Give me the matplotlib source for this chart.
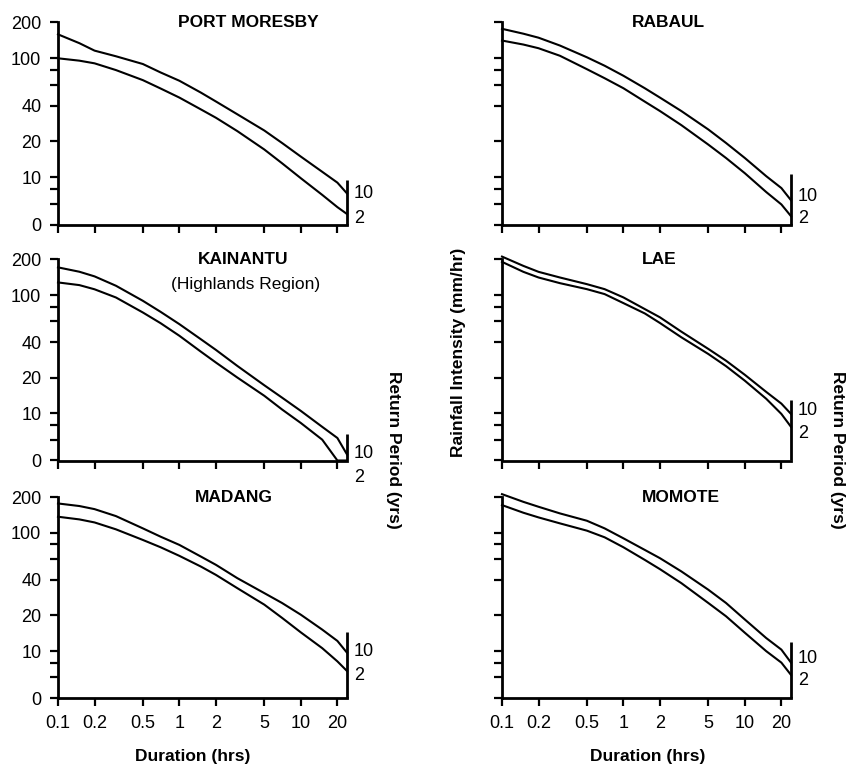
import matplotlib
matplotlib.use('Agg')
import matplotlib.pyplot as plt
from matplotlib.ticker import FixedLocator, FixedFormatter, NullFormatter, NullLocator

plt.rcParams['font.family'] = ['Liberation Sans', 'DejaVu Sans']

# ---- data ----
durations = [0.1, 0.15, 0.2, 0.3, 0.5, 0.7, 1, 1.5, 2, 3, 5, 7, 10, 15, 20, 24]
stations = ["PORT MORESBY", "RABAUL", "KAINANTU", "LAE", "MADANG", "MOMOTE"]
subtitles = ["", "", "(Highlands Region)", "", "", ""]

pm_10 = [159, 134, 116, 104, 89.5, 76, 64.7, 51.5, 43.3, 33.8, 24.7, 19.4, 14.9, 11.1, 9.0, 7.3]
pm_2 = [100, 95.5, 90.7, 79.6, 65.5, 55.7, 46.7, 37.2, 31.6, 24.4, 17.1, 13.1, 9.8, 7.1, 5.6, 4.9]
rab_10 = [177, 161, 149, 128, 102, 86.6, 71.3, 56, 46.7, 36, 25.2, 19.4, 14.5, 10.2, 8.1, 6.4]
rab_2 = [141, 130.5, 121.5, 105, 81, 68, 56, 43.2, 36, 27.4, 18.8, 14.5, 10.8, 7.5, 5.9, 4.7]
kai_10 = [171.6, 157.6, 144, 120, 89.5, 72.2, 56.8, 42.4, 34.4, 25.2, 17.3, 13.6, 10.5, 7.7, 6.2, 4.5]
kai_2 = [128, 121.5, 112, 95.5, 71.3, 57.9, 45.3, 33.3, 26.9, 20.1, 14.1, 10.8, 8.3, 6.0, 4.0, 4.0]
lae_10 = [211.7, 176.6, 157.3, 140.9, 123.8, 112.3, 95.6, 76.2, 64.9, 49.1, 35.1, 27.9, 21.2, 15.2, 12.1, 9.9]
lae_2 = [191, 157.3, 140.9, 126.2, 112.3, 102, 85.6, 70, 58.1, 44, 31.8, 25.1, 18.9, 13.3, 9.9, 7.7]
mad_10 = [176.4, 167.8, 158, 138, 108.7, 92.5, 78.8, 62.9, 53.5, 41.3, 30.9, 25.5, 20.3, 15.2, 12.2, 9.7]
mad_2 = [136.3, 129.4, 122, 106.7, 86.8, 75.3, 63.7, 51.8, 44, 34, 24.7, 19.1, 14.4, 10.6, 8.2, 6.8]
mom_10 = [211.4, 182, 165.4, 145.4, 126.1, 108.7, 89.6, 71.5, 60.9, 47.1, 33, 25.5, 18.5, 12.9, 10.3, 8.0]
mom_2 = [170.9, 147.3, 134.5, 119.8, 104, 91.4, 75.3, 58.9, 49.2, 37.5, 25.5, 19.7, 14.3, 10, 8.0, 6.3]

series_10 = [pm_10, rab_10, kai_10, lae_10, mad_10, mom_10]
series_2 = [pm_2, rab_2, kai_2, lae_2, mad_2, mom_2]

# return-period scale at the right end of each panel
rp_bar_top = [9.4, 10.7, 6.7, 13.0, 14.5, 11.9]
rp_label_10 = [7.3, 6.9, 4.56, 10.6, 9.9, 8.7]
rp_label_2 = [4.46, 4.46, 2.9, 6.8, 6.2, 5.7]

y_ticks = [4, 10, 20, 40, 100, 200]
y_ticklabels = ["0", "10", "20", "40", "100", "200"]
y_minor = [6, 8, 60, 80]
x_ticks = [0.1, 0.2, 0.5, 1, 2, 5, 10, 20]
x_ticklabels = ["0.1", "0.2", "0.5", "1", "2", "5", "10", "20"]

# ---- layout ----
W, H = 848, 769
fig = plt.figure(figsize=(W / 100, H / 100), dpi=100)

col_lefts = [58, 502]
col_width = 289
row_tops = [22.5, 259.5, 497]
row_bottoms = [224.5, 460.5, 698.3]
title_x = [0.66, 0.575, 0.64, 0.543, 0.608, 0.62]

FS = 13
for i in range(6):
    r, c = divmod(i, 2)
    left = col_lefts[c] / W
    bottom = 1 - row_bottoms[r] / H
    height = (row_bottoms[r] - row_tops[r]) / H
    ax = fig.add_axes([left, bottom, col_width / W, height])
    ax.set_xscale('log')
    ax.set_yscale('log')
    ax.set_xlim(0.1, 24)
    ax.set_ylim(4, 200)
    ax.plot(durations, series_10[i], color='black', lw=1.5, clip_on=False,
            solid_joinstyle='round')
    ax.plot(durations, series_2[i], color='black', lw=1.5, clip_on=False,
            solid_joinstyle='round')
    # return-period bar
    ax.plot([24, 24], [4, rp_bar_top[i]], color='black', lw=2, clip_on=False,
            solid_capstyle='butt')
    ax.annotate("10", xy=(24, rp_label_10[i]), xytext=(5, 0), textcoords='offset points',
                ha='left', va='center', fontsize=FS, annotation_clip=False)
    ax.annotate("2", xy=(24, rp_label_2[i]), xytext=(5, 0), textcoords='offset points',
                ha='left', va='center', fontsize=FS, annotation_clip=False)

    for s in ['top', 'right']:
        ax.spines[s].set_visible(False)
    for s in ['left', 'bottom']:
        ax.spines[s].set_linewidth(2)

    ax.yaxis.set_major_locator(FixedLocator(y_ticks))
    ax.yaxis.set_minor_locator(FixedLocator(y_minor))
    ax.yaxis.set_minor_formatter(NullFormatter())
    ax.xaxis.set_major_locator(FixedLocator(x_ticks))
    ax.xaxis.set_minor_locator(NullLocator())
    ax.xaxis.set_minor_formatter(NullFormatter())
    if c == 0:
        ax.yaxis.set_major_formatter(FixedFormatter(y_ticklabels))
    else:
        ax.yaxis.set_major_formatter(NullFormatter())
    if r == 2:
        ax.xaxis.set_major_formatter(FixedFormatter(x_ticklabels))
    else:
        ax.xaxis.set_major_formatter(NullFormatter())
    ax.tick_params(axis='y', which='both', direction='out', length=6, width=1.6,
                   pad=6, labelsize=FS)
    ax.tick_params(axis='x', which='both', direction='out', length=6, width=1.6,
                   pad=6, labelsize=FS)

    ax.text(title_x[i], 1.0, stations[i], transform=ax.transAxes, ha='center',
            va='center', fontsize=12.5, fontweight='bold')
    if subtitles[i]:
        ax.text(title_x[i] + 0.01, 0.875, subtitles[i], transform=ax.transAxes,
                ha='center', va='center', fontsize=12.5)

fig.text(459 / W, 1 - 352 / H, "Rainfall Intensity (mm/hr)", rotation=90,
         ha='center', va='center', fontsize=12.5, fontweight='bold')
for xp in [393, 838]:
    fig.text(xp / W, 1 - 450 / H, "Return Period (yrs)", rotation=-90,
             ha='center', va='center', fontsize=12.5, fontweight='bold')
for xp in [193, 648]:
    fig.text(xp / W, 1 - 757 / H, "Duration (hrs)", ha='center', va='center',
             fontsize=12.5, fontweight='bold')

fig.savefig('out.png', dpi=100)
